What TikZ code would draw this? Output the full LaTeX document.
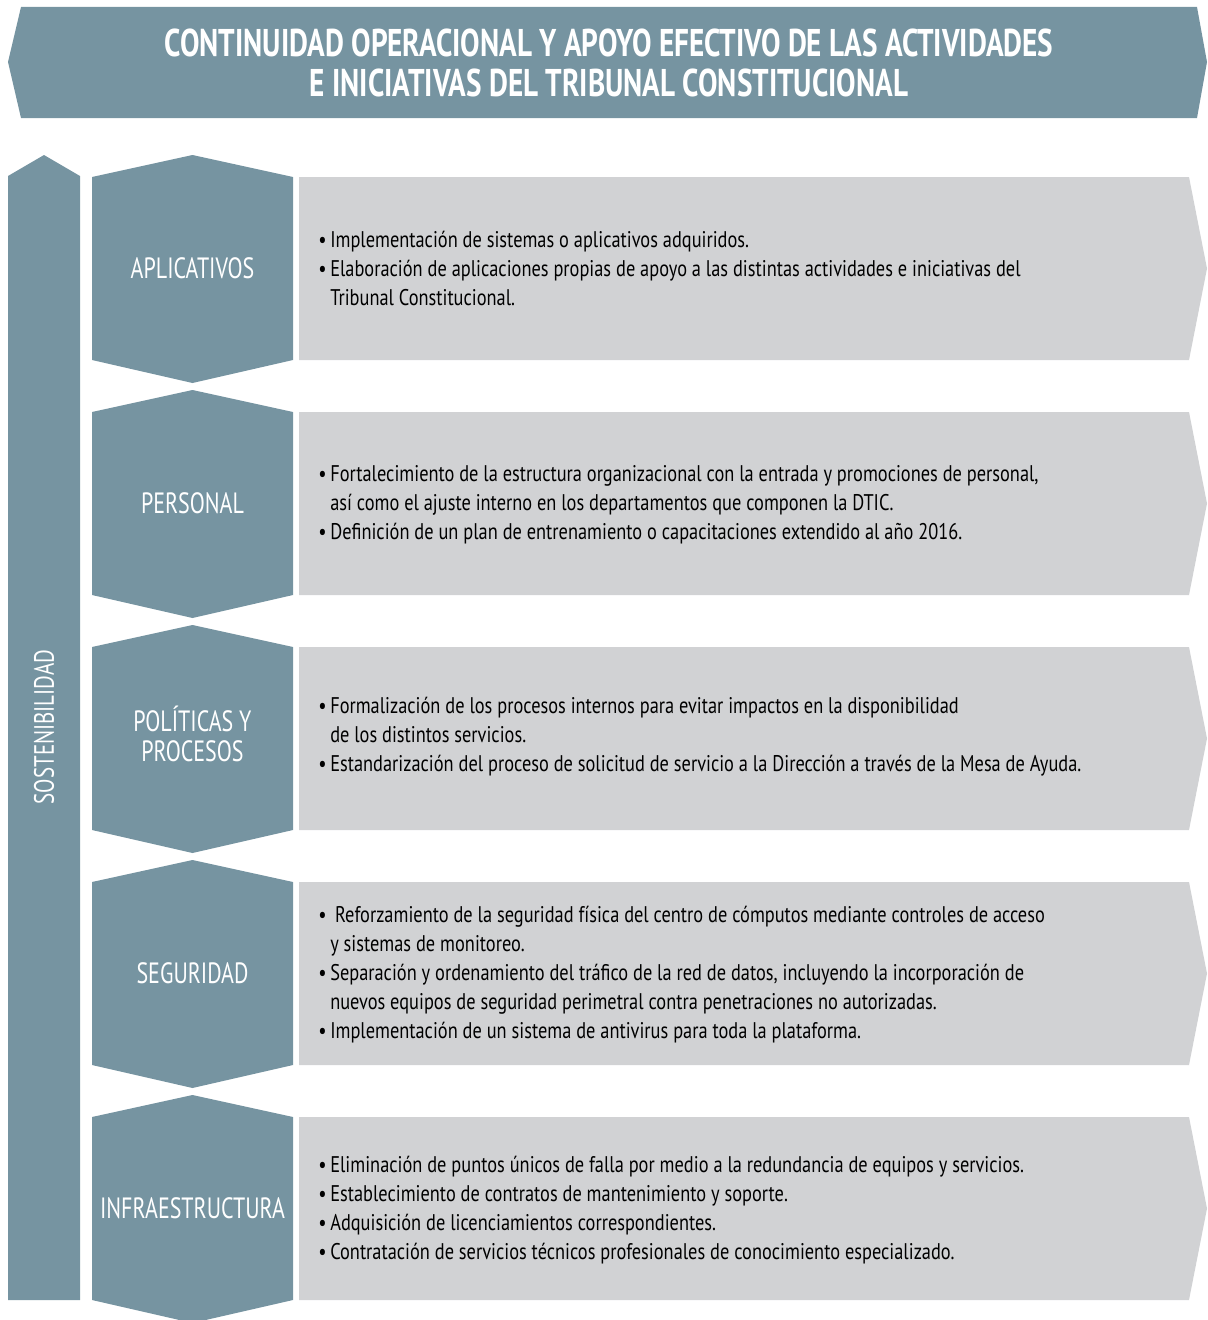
\documentclass[tikz,border=0pt]{standalone}
\usepackage{fontspec}
\setmainfont{PT Sans}[FakeStretch=0.81]
\newfontfamily\titlefont{PT Sans}[FakeStretch=0.755]
\newfontfamily\labfont{PT Sans}[FakeStretch=0.75]
\definecolor{Tcslate}{HTML}{7694A1}
\definecolor{Tcgray}{HTML}{D1D2D4}
\newcommand\bu{\makebox[9pt][l]{\textbullet}}
\newcommand\ct{\hspace*{9pt}}
\tikzset{
  titletxt/.style={white,align=center,inner sep=0,font=\titlefont\bfseries\fontsize{29}{30}\selectfont},
  labtxt/.style={white,align=center,inner sep=0,font=\labfont\fontsize{22}{23}\selectfont},
  bodytxt/.style={anchor=west,align=left,inner sep=0,font=\fontsize{17}{21.75}\selectfont}
}

\begin{document}
\begin{tikzpicture}[x=0.75pt,y=-0.75pt]
\clip (0,0) rectangle (1207,1320);
\fill[Tcslate] (21,7)--(1197,7)--(1207,62)--(1197,118)--(21,118)--(8,62)--cycle;
\node[titletxt] (titulo) at (609,63) {CONTINUIDAD OPERACIONAL Y APOYO EFECTIVO DE LAS ACTIVIDADES\\E INICIATIVAS DEL TRIBUNAL CONSTITUCIONAL};
\fill[Tcslate] (8,176)--(44,155)--(80,176)--(80,1300)--(8,1300)--cycle;
\node[labtxt,rotate=90,font=\labfont\fontsize{21}{22}\selectfont] (sost) at (44,727) {SOSTENIBILIDAD};
\foreach \i/\ty/\lab in {0/268/APLICATIVOS,1/268/PERSONAL,2/264/{POLÍTICAS Y\\PROCESOS},3/268/SEGURIDAD,4/268/INFRAESTRUCTURA}{
  \pgfmathsetmacro\dy{235*\i}
  \fill[Tcslate] (92,177+\dy)--(192.5,155+\dy)--(293,177+\dy)--(293,360+\dy)
    --(192.5,383+\dy)--(92,360+\dy)--cycle;
  \fill[Tcgray] (299,177+\dy)--(1189,177+\dy)--(1207,268.5+\dy)--(1189,360+\dy)
    --(299,360+\dy)--cycle;
  \node[labtxt] (hex\i) at (192.5,\ty+\dy) {\lab};
}
\node[bodytxt] (txtA) at (318,268) {\bu Implementación de sistemas o aplicativos adquiridos.\\
  \bu Elaboración de aplicaciones propias de apoyo a las distintas actividades e iniciativas del\\
  \ct Tribunal Constitucional.};
\node[bodytxt] (txtB) at (318,505) {\bu Fortalecimiento de la estructura organizacional con la entrada y promociones de personal,\\
  \ct así como el ajuste interno en los departamentos que componen la DTIC.\\
  \bu Definición de un plan de entrenamiento o capacitaciones extendido al año 2016.};
\node[bodytxt] (txtC) at (318,737) {\bu Formalización de los procesos internos para evitar impactos en la disponibilidad\\
  \ct de los distintos servicios.\\
  \bu Estandarización del proceso de solicitud de servicio a la Dirección a través de la Mesa de Ayuda.};
\node[bodytxt] (txtD) at (318,975) {\bu\ Reforzamiento de la seguridad física del centro de cómputos mediante controles de acceso\\
  \ct y sistemas de monitoreo.\\
  \bu Separación y ordenamiento del tráfico de la red de datos, incluyendo la incorporación de\\
  \ct nuevos equipos de seguridad perimetral contra penetraciones no autorizadas.\\
  \bu Implementación de un sistema de antivirus para toda la plataforma.};
\node[bodytxt] (txtE) at (318,1210) {\bu Eliminación de puntos únicos de falla por medio a la redundancia de equipos y servicios.\\
  \bu Establecimiento de contratos de mantenimiento y soporte.\\
  \bu Adquisición de licenciamientos correspondientes.\\
  \bu Contratación de servicios técnicos profesionales de conocimiento especializado.};
\end{tikzpicture}
\end{document}
